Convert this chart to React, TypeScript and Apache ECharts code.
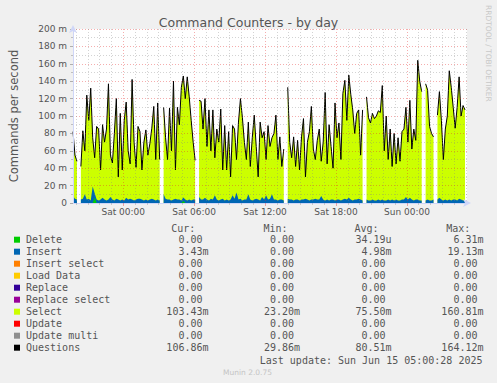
import React, { useEffect, useRef } from 'react';
import * as echarts from 'echarts';

// ---- data (values in milli-commands per second, one sample every 10 minutes from Fri 19:45) ----
const STEP_MINUTES = 10;

// Questions (black line) – also the top of the stacked areas
const questions: (number | null)[] = [
  82, 55, 48, null, 42, 83, 60, 124, 95, 132, 75, 52, 88, 85, 38, 90, 70, 85, 137, 55,
  46, 80, 120, 30, 103, 38, 95, 116, 60, 45, 142, 70, 41, 88,
  82, 38, 70, 84, 55, 68, 86, 111, 50, 115, 50, null, 110, 75, 50, 109, 60, 140, 38, 110,
  90, 133, 146, 120, 145, 122, 95, 70, 49, null, 118, 117,
  85, 120, 65, 107, 60, 107, 52, 85, 70, 108, 38, 89, 38, 82, 30, 89, 85, 50, 93, 120,
  98, 70, 50, 93, 42, 75, 101, 65, 30, 93, 75, 82, 50, 89, 65, 75,
  80, 101, 50, 76, 42, 62, null, 133, 70, 52, 76, 42, 72, 38, 76, 97, 30, 70, 82, 111,
  62, 50, 72, 85, 48, 70, 127, 45, 90, 65, 40, 115, 75, 92,
  50, 126, 141, 95, 147, 125, 107, 80, 103, 107, 55, 107, null, 122, 98, 92, 103, 97, 100, 106,
  104, 135, 60, 100, 50, 85, 42, 80, 45, 75, 48, 82, 85, 110,
  70, 118, 62, 85, 72, 164, 140, 128, null, 137, 130, 88, 80, 76, null, 101, 128, 95, 50, 85,
  100, 152, 133, 110, 86, 110, 145, 100, 112, 107,
];

// Insert (blue, stacked on Delete)
const insert: (number | null)[] = [
  8, 5, 4, null,
  4, 5, 10, 4, 5, 3, 19, 5, 4, 3, 4, 6, 4, 3, 4, 7, 4, 3, 5, 4, 3, 4, 3, 6, 4, 5, 4, 3, 4, 5,
  5, 4, 3, 4, 3, 4, 5, 4, 3, 4, 3, null,
  10, 5, 4, 4, 3, 4, 5, 4, 4, 3, 4, 4, 3, 4, 3, 4, 4, null,
  7, 4, 4, 6, 4, 3, 5, 4, 9, 4, 3, 4, 5, 3, 4, 3, 4, 9, 5, 12, 4, 5, 3, 4, 4, 10, 4, 3, 4, 5,
  4, 3, 7, 4, 9, 4, 5, 10, 4, 4, 3, 4, 4, 3, null,
  5, 4, 4, 3, 4, 4, 3, 4, 4, 5, 4, 3, 4, 4, 5, 4, 4, 8, 4, 3, 4, 3, 4, 4, 3, 4, 4, 3, 4, 5,
  4, 6, 4, 3, 4, 4, 5, 4, 3, null,
  4, 3, 3, 4, 3, 3, 4, 3, 4, 3, 3, 4, 3, 4, 3, 4, 3, 3, 4, 4, 7, 4, 6, 4, 3, 4, 4, 3, 3, null,
  3, 4, 3, 3, 4, null,
  4, 6, 4, 3, 4, 3, 4, 3, 4, 4, 3, 5, 4, 3, 3.4,
];

// Delete is zero except for these samples (index -> value)
const deleteSpikes: Record<number, number> = { 11: 6.3, 56: 2.2 };

// x axis (minutes from the first sample)
const X_MAX = 2000;
const majorTicks = [255, 615, 975, 1335, 1695];
const majorLabels = ['Sat 00:00', 'Sat 06:00', 'Sat 12:00', 'Sat 18:00', 'Sun 00:00'];
const firstHourTick = 15;

// legend
const legendNames = ['Delete', 'Insert', 'Insert select', 'Load Data', 'Replace', 'Replace select', 'Select', 'Update', 'Update multi', 'Questions'];
const legendColors = ['#00cc00', '#0066b3', '#ff8000', '#ffcc00', '#330099', '#990099', '#ccff00', '#ff0000', '#8f8f8f', '#000000'];
const curValues = ['0.00', '3.43m', '0.00', '0.00', '0.00', '0.00', '103.43m', '0.00', '0.00', '106.86m'];
const minValues = ['0.00', '0.00', '0.00', '0.00', '0.00', '0.00', '23.20m', '0.00', '0.00', '29.86m'];
const avgValues = ['34.19u', '4.98m', '0.00', '0.00', '0.00', '0.00', '75.50m', '0.00', '0.00', '80.51m'];
const maxValues = ['6.31m', '19.13m', '0.00', '0.00', '0.00', '0.00', '160.81m', '0.00', '0.00', '164.12m'];
const columnHeaders = ['Cur:', 'Min:', 'Avg:', 'Max:'];
const lastUpdate = 'Last update: Sun Jun 15 05:00:28 2025';

// ---- styles ----
const TEXT = '#555555';
const AXIS = '#cfd6f8';
const MAJOR_GRID = 'rgba(230,40,40,0.38)';
const MINOR_GRID = 'rgba(130,130,130,0.35)';
const SANS = '"DejaVu Sans", sans-serif';
const MONO = '"DejaVu Sans Mono", monospace';

export default function App() {
  const ref = useRef<HTMLDivElement>(null);

  useEffect(() => {
    if (!ref.current) return;
    const chart = echarts.init(ref.current, undefined, { renderer: 'svg' });

    const n = questions.length;
    const t = (i: number) => i * STEP_MINUTES;
    const delVals = questions.map((q, i) => (q === null ? null : deleteSpikes[i] ?? 0));
    // cumulative tops of the stack (Delete, Delete+Insert, and the Select top = Questions line)
    const insTop = insert.map((v, i) => (v === null || delVals[i] === null ? null : v + (delVals[i] as number)));
    const pts = (arr: (number | null)[]) => arr.slice(0, n).map((v, i) => [t(i), v]);

    const hourTicks: number[] = [];
    for (let m = firstHourTick; m <= X_MAX; m += 60) {
      if (majorTicks.indexOf(m) < 0) hourTicks.push(m);
    }

    const areaSeries = (name: string, data: (number | null)[], color: string) => ({
      name,
      type: 'line',
      data: pts(data),
      symbol: 'none',
      showSymbol: false,
      connectNulls: false,
      lineStyle: { width: 0, color },
      areaStyle: { color, opacity: 1, origin: 'start' },
      z: 2,
    });

    // legend graphics
    const cw = 6.02;
    const rowY0 = 239.7;
    const rowH = 12;
    const digitEnds = [202, 293.5, 385, 477];
    const headerX = [171.2, 263.5, 354.5, 446.2];
    const cols = [curValues, minValues, avgValues, maxValues];
    const graphics: any[] = [];
    columnHeaders.forEach((h, c) => {
      graphics.push({
        type: 'text', x: headerX[c], y: 228,
        style: { text: h, fill: TEXT, fontSize: 10, fontFamily: MONO, textAlign: 'left', textVerticalAlign: 'middle' },
      });
    });
    legendNames.forEach((name, r) => {
      const y = rowY0 + r * rowH;
      graphics.push({ type: 'rect', shape: { x: 14, y: y - 3, width: 6, height: 6 }, style: { fill: legendColors[r] } });
      graphics.push({
        type: 'text', x: 26, y,
        style: { text: name, fill: TEXT, fontSize: 10, fontFamily: MONO, textAlign: 'left', textVerticalAlign: 'middle' },
      });
      cols.forEach((col, c) => {
        const s = col[r];
        const hasSuffix = /[a-zA-Z]$/.test(s);
        graphics.push({
          type: 'text', x: digitEnds[c] + 0.5 + (hasSuffix ? cw : 0), y,
          style: { text: s, fill: TEXT, fontSize: 10, fontFamily: MONO, textAlign: 'right', textVerticalAlign: 'middle' },
        });
      });
    });
    graphics.push({
      type: 'text', x: 482.5, y: 360,
      style: { text: lastUpdate, fill: TEXT, fontSize: 10, fontFamily: MONO, textAlign: 'right', textVerticalAlign: 'middle' },
    });
    graphics.push({
      type: 'text', x: 247.5, y: 372,
      style: { text: 'Munin 2.0.75', fill: '#c4c4c4', fontSize: 7.5, fontFamily: SANS, textAlign: 'center', textVerticalAlign: 'middle' },
    });
    graphics.push({
      type: 'text', x: 488, y: 5, rotation: -Math.PI / 2,
      style: { text: 'RRDTOOL / TOBI OETIKER', fill: '#c8c8c8', fontSize: 7.5, fontFamily: SANS, textAlign: 'left', textVerticalAlign: 'middle' },
    });

    chart.setOption({
      animation: false,
      backgroundColor: '#f0f0f0',
      title: {
        text: 'Command Counters - by day',
        left: 'center',
        top: 11,
        textStyle: { fontSize: 12.5, fontWeight: 'normal', color: TEXT, fontFamily: SANS },
      },
      grid: { left: 67, top: 29, width: 400, height: 174, show: true, backgroundColor: '#ffffff', borderWidth: 0 },
      xAxis: [
        {
          type: 'value', min: 0, max: X_MAX, position: 'bottom', z: 3,
          axisLine: { show: true, lineStyle: { color: AXIS, width: 1 }, symbol: ['none', 'arrow'], symbolSize: [6, 8], symbolOffset: [0, 4] },
          axisTick: { show: true, customValues: hourTicks, length: 2, lineStyle: { color: MINOR_GRID } },
          axisLabel: { show: false },
          splitLine: { show: true, lineStyle: { color: MINOR_GRID, type: [1, 2], width: 1 } },
        },
        {
          type: 'value', min: 0, max: X_MAX, position: 'bottom', z: 3,
          axisLine: { show: false },
          axisTick: { show: true, customValues: majorTicks, length: 3, lineStyle: { color: MAJOR_GRID } },
          axisLabel: {
            customValues: majorTicks,
            formatter: (v: number) => {
              const i = majorTicks.indexOf(v);
              return i >= 0 ? majorLabels[i] : '';
            },
            color: TEXT, fontSize: 9, fontFamily: SANS, margin: 4,
          },
          splitLine: { show: true, lineStyle: { color: MAJOR_GRID, type: [1, 2], width: 1 } },
        },
      ],
      yAxis: {
        type: 'value', min: 0, max: 200, interval: 20, z: 3,
        name: 'Commands per second', nameLocation: 'middle', nameGap: 53,
        nameTextStyle: { fontSize: 11.5, color: TEXT, fontFamily: SANS },
        axisLine: { show: true, lineStyle: { color: AXIS, width: 1 }, symbol: ['none', 'arrow'], symbolSize: [6, 8], symbolOffset: [0, 4] },
        axisTick: { show: true, length: 3, lineStyle: { color: 'rgba(130,130,130,0.6)' } },
        minorTick: { show: true, splitNumber: 2, length: 2, lineStyle: { color: 'rgba(130,130,130,0.45)' } },
        axisLabel: {
          formatter: (v: number) => (v === 0 ? '0' : v + ' m'),
          color: TEXT, fontSize: 9, fontFamily: SANS, margin: 6,
        },
        splitLine: { show: true, lineStyle: { color: MAJOR_GRID, type: [1, 2], width: 1 } },
        minorSplitLine: { show: true, lineStyle: { color: MINOR_GRID, type: [1, 2], width: 1 } },
      },
      series: [
        // drawn back to front: Select area (top = Questions), Insert, Delete
        areaSeries('Select', questions, legendColors[6]),
        areaSeries('Insert', insTop, legendColors[1]),
        areaSeries('Delete', delVals, legendColors[0]),
        {
          name: 'Questions', type: 'line', data: pts(questions), symbol: 'none', showSymbol: false,
          connectNulls: false,
          lineStyle: { color: '#000000', width: 1 }, z: 2,
        },
      ],
      graphic: graphics,
    });

    return () => chart.dispose();
  }, []);

  return <div ref={ref} style={{ position: 'absolute', left: 0, top: 0, width: 497, height: 383 }} />;
}
